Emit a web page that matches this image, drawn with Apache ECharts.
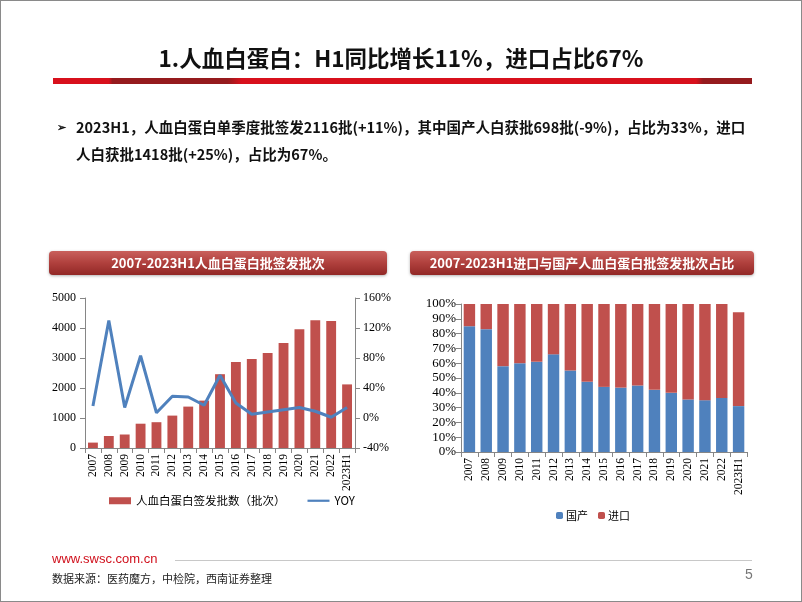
<!DOCTYPE html>
<html>
<head>
<meta charset="utf-8">
<script src="https://cdn.jsdelivr.net/npm/echarts@6/dist/echarts.min.js"></script>
<style>
  html, body { margin: 0; padding: 0; background: #fff; }
  #page { position: relative; width: 800px; height: 600px; border: 1px solid #8a8a8a; overflow: hidden;
    font-family: "Noto Sans CJK SC", "Noto Sans", sans-serif; }
  #chart { position: absolute; left: 0; top: 0; width: 800px; height: 600px; }
  .title { position: absolute; left: 0; width: 800px; top: 40px; text-align: center; font-size: 22.5px; font-weight: bold; color: #111; }
  .bullet { position: absolute; left: 56px; top: 112px; width: 720px; font-size: 14.5px; font-weight: bold; color: #111; line-height: 27px; }
  .bullet .mark { position: absolute; left: 0; top: 0; font-size: 11px; }
  .bullet .txt { margin-left: 19px; }
  .site { position: absolute; left: 51px; top: 550px; color: #d0101c; font-family: "Liberation Sans", Arial, sans-serif; font-size: 13px; }
  .rule { position: absolute; left: 174px; top: 559px; width: 577px; height: 1px; background: #c8c8c8; }
  .src { position: absolute; left: 51px; top: 569px; font-size: 11px; color: #222; }
  .pnum { position: absolute; left: 744px; top: 565px; font-size: 14px; color: #777; font-family: "Liberation Sans", sans-serif; }
</style>
</head>
<body>
<div id="page">
  <div id="chart"></div>
  <div class="title">1.人血白蛋白：H1同比增长11%，进口占比67%</div>
  <div class="bullet"><span class="mark">➢</span><div class="txt">2023H1，人血白蛋白单季度批签发2116批(+11%)，其中国产人白获批698批(-9%)，占比为33%，进口<br>人白获批1418批(+25%)，占比为67%。</div></div>
  <div class="site">www.swsc.com.cn</div>
  <div class="rule"></div>
  <div class="src">数据来源：医药魔方，中检院，西南证券整理</div>
  <div class="pnum">5</div>
</div>
<script>
var years = ["2007", "2008", "2009", "2010", "2011", "2012", "2013", "2014", "2015", "2016", "2017", "2018", "2019", "2020", "2021", "2022", "2023H1"];
var batches = [180, 400, 450, 810, 860, 1080, 1380, 1580, 2460, 2870, 2970, 3170, 3500, 3960, 4260, 4230, 2120];
var yoy = [16, 130, 14, 83, 7, 29, 28, 17, 57, 20, 5, 8, 11, 14, 9, 1, 14];
var domesticShare = [85, 83, 58, 60, 61, 66, 55, 47.5, 44, 43.5, 45, 42, 40, 35.5, 35, 36.5, 31];
var importShare = [15, 17, 42, 40, 39, 34, 45, 52.5, 56, 56.5, 55, 58, 60, 64.5, 65, 63.5, 63.5];

var red = "#C0504D";
var blue = "#4F81BD";
var serif = "Liberation Serif";
var axisGray = "#868686";

var myChart = echarts.init(document.getElementById("chart"));

function banner(x, w, text) {
  return {
    type: "group",
    children: [
      {
        type: "rect",
        shape: { x: x, y: 250, width: w, height: 24, r: 4 },
        style: {
          fill: new echarts.graphic.LinearGradient(0, 0, 0, 1, [
            { offset: 0, color: "#c9605c" },
            { offset: 0.5, color: "#b0403d" },
            { offset: 1, color: "#922826" }
          ]),
          shadowBlur: 3, shadowColor: "rgba(0,0,0,0.3)", shadowOffsetY: 1
        }
      },
      {
        type: "text",
        x: x + w / 2, y: 262,
        style: { text: text, fill: "#fff", font: "bold 13px 'Noto Sans CJK SC'", align: "center", verticalAlign: "middle" }
      }
    ]
  };
}

var catAxisBase = {
  type: "category",
  data: years,
  axisLine: { show: true, lineStyle: { color: axisGray } },
  axisTick: { show: true, lineStyle: { color: axisGray } },
  axisLabel: { rotate: 90, color: "#000", fontFamily: serif, fontSize: 11.5, margin: 6, interval: 0 }
};

myChart.setOption({
  animation: false,
  graphic: [
    {
      type: "rect",
      shape: { x: 52, y: 77, width: 699, height: 6 },
      style: {
        fill: new echarts.graphic.LinearGradient(0, 0, 1, 0, [
          { offset: 0, color: "#d8101c" },
          { offset: 0.08, color: "#d8101c" },
          { offset: 0.085, color: "#951a1d" },
          { offset: 0.25, color: "#951a1d" },
          { offset: 0.27, color: "#d8101c" },
          { offset: 0.92, color: "#d8101c" },
          { offset: 0.93, color: "#951a1d" },
          { offset: 1, color: "#951a1d" }
        ])
      }
    },
    banner(48, 338, "2007-2023H1人血白蛋白批签发批次"),
    banner(409, 344, "2007-2023H1进口与国产人血白蛋白批签发批次占比")
  ],
  legend: [
    {
      data: [
        { name: "人血白蛋白签发批数（批次）", icon: "rect" },
        { name: "YOY", icon: "path://M0,0 L30,0 L30,3 L0,3 Z", itemStyle: { color: blue } }
      ],
      left: 108, top: 494,
      itemGap: 22,
      textStyle: { color: "#000", fontSize: 11.5, fontFamily: "Noto Sans CJK SC" },
      itemWidth: 22, itemHeight: 7,
      padding: 0
    },
    {
      data: ["国产", "进口"],
      left: 555, top: 509,
      itemWidth: 7, itemHeight: 7, itemGap: 10,
      textStyle: { color: "#000", fontSize: 11, fontFamily: "Noto Sans CJK SC", padding: [0, 0, 0, -2] },
      padding: 0
    }
  ],
  grid: [
    { left: 84, right: 446, top: 297, bottom: 153 },
    { left: 460, right: 54, top: 303, bottom: 149 }
  ],
  xAxis: [
    Object.assign({ gridIndex: 0 }, catAxisBase),
    Object.assign({ gridIndex: 1 }, catAxisBase)
  ],
  yAxis: [
    {
      gridIndex: 0, type: "value", min: 0, max: 5000, interval: 1000,
      splitLine: { show: false },
      axisLine: { show: true, lineStyle: { color: axisGray } },
      axisTick: { show: true, lineStyle: { color: axisGray } },
      axisLabel: { color: "#000", fontFamily: serif, fontSize: 12, margin: 9, formatter: function (v) { return String(v); } }
    },
    {
      gridIndex: 0, type: "value", min: -40, max: 160, interval: 40, position: "right",
      splitLine: { show: false },
      axisLine: { show: true, lineStyle: { color: axisGray } },
      axisTick: { show: true, lineStyle: { color: axisGray } },
      axisLabel: { color: "#000", fontFamily: serif, fontSize: 12, formatter: "{value}%" }
    },
    {
      gridIndex: 1, type: "value", min: 0, max: 100, interval: 10,
      splitLine: { show: false },
      axisLine: { show: true, lineStyle: { color: axisGray } },
      axisTick: { show: true, lineStyle: { color: axisGray } },
      axisLabel: { color: "#000", fontFamily: serif, fontSize: 13, formatter: "{value}%", margin: 5 }
    }
  ],
  series: [
    {
      name: "人血白蛋白签发批数（批次）",
      type: "bar",
      xAxisIndex: 0, yAxisIndex: 0,
      barWidth: "62%",
      itemStyle: { color: red },
      data: batches
    },
    {
      name: "YOY",
      type: "line",
      xAxisIndex: 0, yAxisIndex: 1,
      symbol: "none",
      lineStyle: { color: blue, width: 3 },
      itemStyle: { color: blue },
      data: yoy
    },
    {
      name: "国产",
      type: "bar",
      stack: "share",
      xAxisIndex: 1, yAxisIndex: 2,
      barWidth: "68%",
      itemStyle: { color: blue },
      data: domesticShare
    },
    {
      name: "进口",
      type: "bar",
      stack: "share",
      xAxisIndex: 1, yAxisIndex: 2,
      barWidth: "68%",
      itemStyle: { color: red },
      data: importShare
    }
  ]
});
</script>
</body>
</html>
